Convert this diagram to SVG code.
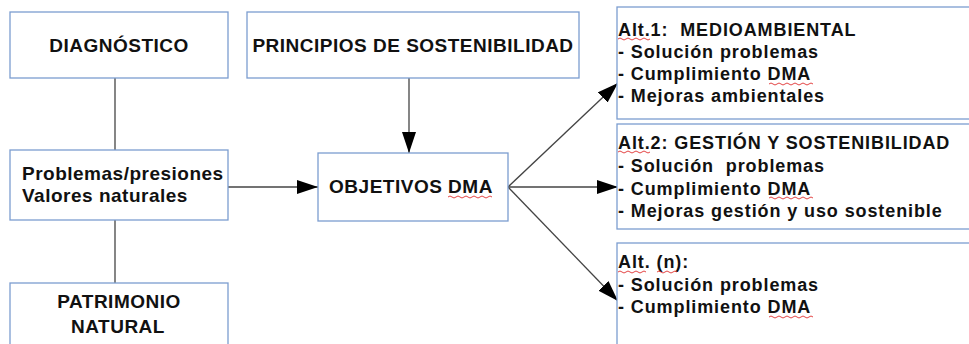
<svg xmlns="http://www.w3.org/2000/svg" width="969" height="344" viewBox="0 0 969 344">
<style>
.box{fill:#fff;stroke:#7c9dd0;stroke-width:1.3}
.t{font-family:"Liberation Sans",Arial,sans-serif;font-weight:bold;fill:#111;white-space:pre}
.big{font-size:19px;letter-spacing:0.5px}
.alt{font-size:18px;letter-spacing:0.9px}
.c{text-anchor:middle}
.ln{stroke:#444;stroke-width:1.3;fill:none}
.sq{stroke:#e03030;stroke-width:0.9;fill:none}
</style>
<defs>
<marker id="ah" markerUnits="userSpaceOnUse" markerWidth="21" markerHeight="14" refX="21" refY="7" orient="auto">
<path d="M0,0 L21,7 L0,14 z" fill="#000"/>
</marker>
</defs>
<g id="connectors">
<line class="ln" x1="115" y1="78" x2="115" y2="150"/>
<line class="ln" x1="115" y1="220" x2="115" y2="283"/>
<line class="ln" x1="228" y1="187" x2="318" y2="187" marker-end="url(#ah)"/>
<line class="ln" x1="409" y1="78" x2="409" y2="153" marker-end="url(#ah)"/>
<line class="ln" x1="508" y1="187" x2="618" y2="83" marker-end="url(#ah)"/>
<line class="ln" x1="508" y1="187" x2="618" y2="187" marker-end="url(#ah)"/>
<line class="ln" x1="508" y1="187" x2="618" y2="301" marker-end="url(#ah)"/>
</g>
<g id="diagnostico">
<rect class="box" x="10" y="12" width="218" height="66"/>
<text class="t big c" x="119" y="52">DIAGNÓSTICO</text>
</g>
<g id="problemas">
<rect class="box" x="10" y="150" width="218" height="70"/>
<text class="t big" x="22" y="180">Problemas/presiones</text>
<text class="t big" x="22" y="202">Valores naturales</text>
</g>
<g id="patrimonio">
<rect class="box" x="10" y="283" width="218" height="70"/>
<text class="t big c" x="119" y="308">PATRIMONIO</text>
<text class="t big c" x="118" y="333">NATURAL</text>
</g>
<g id="principios">
<rect class="box" x="247" y="12" width="332" height="66"/>
<text class="t big c" x="413" y="52">PRINCIPIOS DE SOSTENIBILIDAD</text>
</g>
<g id="objetivos">
<rect class="box" x="318" y="153" width="190" height="68"/>
<text class="t big c" x="411" y="193">OBJETIVOS DMA</text>
<path class="sq" d="M448,197 q2,-2 4,0 t4,0 t4,0 t4,0 t4,0 t4,0 t4,0 t4,0 t4,0 t4,0 t4,0"/>
</g>
<g id="alt1">
<rect class="box" x="617" y="7" width="360" height="112"/>
<text class="t alt" x="618" y="36">Alt.1:  MEDIOAMBIENTAL</text>
<text class="t alt" x="618" y="58">- Solución problemas</text>
<text class="t alt" x="618" y="80">- Cumplimiento DMA</text>
<text class="t alt" x="618" y="102">- Mejoras ambientales</text>
<path class="sq" d="M618,39 q2,-2 4,0 t4,0 t4,0 t4,0 t4,0 t4,0 t4,0 t4,0"/>
<path class="sq" d="M769,84 q2,-2 4,0 t4,0 t4,0 t4,0 t4,0 t4,0 t4,0 t4,0 t4,0 t4,0 t4,0"/>
</g>
<g id="alt2">
<rect class="box" x="617" y="124" width="360" height="105"/>
<text class="t alt" x="618" y="149">Alt.2: GESTIÓN Y SOSTENIBILIDAD</text>
<text class="t alt" x="618" y="172">- Solución  problemas</text>
<text class="t alt" x="618" y="195">- Cumplimiento DMA</text>
<text class="t alt" x="618" y="217">- Mejoras gestión y uso sostenible</text>
<path class="sq" d="M618,152 q2,-2 4,0 t4,0 t4,0 t4,0 t4,0 t4,0 t4,0 t4,0"/>
<path class="sq" d="M769,198 q2,-2 4,0 t4,0 t4,0 t4,0 t4,0 t4,0 t4,0 t4,0 t4,0 t4,0 t4,0"/>
</g>
<g id="altn">
<rect class="box" x="617" y="243" width="360" height="110"/>
<text class="t alt" x="618" y="268">Alt. (n):</text>
<text class="t alt" x="618" y="291">- Solución problemas</text>
<text class="t alt" x="618" y="313">- Cumplimiento DMA</text>
<path class="sq" d="M618,272 q2,-2 4,0 t4,0 t4,0 t4,0 t4,0 t4,0 t4,0"/>
<path class="sq" d="M657,272 q2,-2 4,0 t4,0 t4,0 t4,0 t4,0"/>
<path class="sq" d="M769,317 q2,-2 4,0 t4,0 t4,0 t4,0 t4,0 t4,0 t4,0 t4,0 t4,0 t4,0 t4,0"/>
</g>
</svg>
